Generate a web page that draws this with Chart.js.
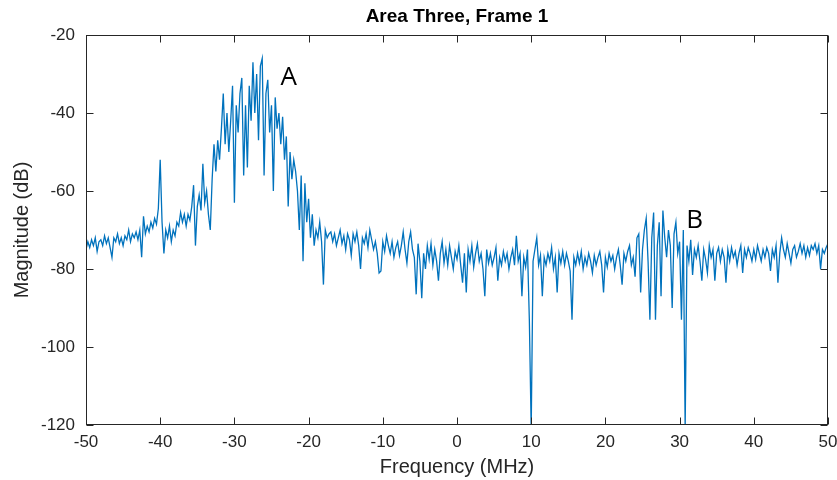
<!DOCTYPE html>
<html>
<head>
<meta charset="utf-8">
<script src="https://cdn.jsdelivr.net/npm/chart.js@4.4.1/dist/chart.umd.min.js"></script>
<style>
  html, body { margin: 0; padding: 0; background: #fff; }
  #wrap { width: 837px; height: 480px; }
</style>
</head>
<body>
<div id="wrap"><canvas id="chart" width="837" height="480"></canvas></div>
<script>
// spectrum sampled every 0.25 MHz from -50 to +50 MHz
const freqStart = -50;
const freqStep = 0.25;
const magnitudeDb = [
  -75, -73, -74.5, -72.5,   -74, -72, -75.5, -73,
  -72.5, -74, -71.5, -73.5,   -72, -74.5, -77, -72,
  -73, -71, -73.5, -72,   -74, -71.5, -72.5, -70,
  -73, -71, -72, -70.5,   -72.5, -70, -77, -66.5,
  -71, -69, -70.5, -68,   -69.5, -67, -68.5, -64.5,
  -52, -68, -76, -70,   -72, -69, -73, -70,
  -71.5, -68, -69, -65.5,   -68, -66, -69, -66,
  -67.5, -64, -58.5, -74,   -64, -61, -65, -53,
  -63, -60, -66, -70,   -57, -48, -55, -47,
  -52, -44, -35, -48,   -40, -50, -42, -33,
  -63, -38, -45, -35,   -31, -56, -38, -54,
  -33, -42, -27, -40,   -30, -47, -28, -26,
  -56, -35, -31.5, -45,   -38, -60, -36, -44,
  -40, -48, -41, -52,   -46, -64, -50, -57,
  -52, -55, -60, -70,   -56, -78, -58, -68,
  -62, -72, -66, -74,   -70, -72, -68, -73,
  -84, -70, -72, -71,   -70.5, -73, -71, -74,
  -72, -70, -73.5, -71.5,   -75, -71, -72.5, -76.5,
  -71, -73, -70.5, -74,   -80, -72, -73.5, -71,
  -74.5, -70, -72.5, -75,   -73, -76, -81, -80.5,
  -73, -75.5, -71.5, -74,   -76, -73, -77, -74.5,
  -73, -76.5, -74, -70.5,   -75, -78.5, -73, -70.5,
  -75, -77, -86.5, -73.5,   -78, -87.5, -76, -80,
  -74, -77.5, -73.5, -79,   -75, -78, -83, -76,
  -73, -78.5, -75, -79,   -74, -77, -80, -75.5,
  -77.5, -74, -79, -83.5,   -76, -86, -75, -78,
  -74, -79.5, -76, -73.5,   -78, -76, -80, -87,
  -75, -78.5, -76, -79,   -77, -74.5, -83, -77,
  -79, -75.5, -78, -76,   -80, -77, -75, -79,
  -71.5, -78, -76, -87,   -77, -79.5, -75, -93,
  -121, -78, -75, -72,   -79, -76.5, -87, -77,
  -79, -76, -78, -74.5,   -80, -77, -86, -76,
  -78.5, -75.5, -79, -76,   -78, -80.5, -93, -77,
  -79, -76, -78.5, -75.5,   -80, -77, -79, -76,
  -78, -81, -76.5, -79,   -77, -75.5, -79, -86,
  -77, -79.5, -76, -78,   -76.5, -80, -77, -75,
  -79, -84, -76, -78,   -75.5, -74, -79, -77,
  -82, -72, -71, -86,   -75, -70, -67, -78,
  -93, -72, -65.5, -93,   -74, -68, -87, -65,
  -72, -77, -70, -74,   -90, -71, -68, -76,
  -73, -93, -70, -121,   -74, -78, -72.5, -81.5,
  -75, -77, -74, -78,   -83, -75, -77.5, -81,
  -74, -77, -75, -83,   -76, -74.5, -78, -75,
  -77, -83.5, -75, -78,   -74.5, -77, -75.5, -79,
  -76, -74, -81, -75,   -77, -74.5, -76, -78,
  -75, -77.5, -74, -76,   -78, -75, -77, -74.5,
  -76, -80.5, -75, -77,   -74, -83.5, -76, -72,
  -75, -77, -73.5, -76,   -78.5, -75, -74, -77,
  -75.5, -73.5, -76, -74,   -77, -74.5, -76.5, -74,
  -75, -73.5, -76, -74,   -80, -75, -76, -74.5,
  -73.5
];
const freqMHz = magnitudeDb.map((_, i) => freqStart + i * freqStep);

const xTicks = [-50, -40, -30, -20, -10, 0, 10, 20, 30, 40, 50];
const yTicks = [-120, -100, -80, -60, -40, -20];

// peak markers placed in data coordinates
const markers = [
  { text: "A", x: -23.8, y: -31 },
  { text: "B", x: 30.9, y: -67.6 },
];

const axisColor = "#262626";
const fontFamily = "'Liberation Sans', Arial, Helvetica, sans-serif";

// full box with inward ticks on all four sides, plus title and markers
const boxAndLabels = {
  id: "boxAndLabels",
  afterDraw(chart) {
    const { ctx, chartArea: a, scales } = chart;
    const l = Math.round(a.left) + 0.5, r = Math.round(a.right) - 0.5;
    const t = Math.round(a.top) + 0.5, b = Math.round(a.bottom) - 0.5;
    const tickLen = 7;
    ctx.save();
    ctx.strokeStyle = axisColor;
    ctx.lineWidth = 1;
    ctx.strokeRect(l, t, r - l, b - t);
    ctx.beginPath();
    xTicks.forEach(v => {
      const px = Math.round(scales.x.getPixelForValue(v)) + 0.5;
      ctx.moveTo(px, b); ctx.lineTo(px, b - tickLen);
      ctx.moveTo(px, t); ctx.lineTo(px, t + tickLen);
    });
    yTicks.forEach(v => {
      const py = Math.round(scales.y.getPixelForValue(v)) + 0.5;
      ctx.moveTo(l, py); ctx.lineTo(l + tickLen, py);
      ctx.moveTo(r, py); ctx.lineTo(r - tickLen, py);
    });
    ctx.stroke();

    ctx.fillStyle = "#000";
    ctx.font = "bold 19px " + fontFamily;
    ctx.textAlign = "center";
    ctx.textBaseline = "middle";
    ctx.fillText("Area Three, Frame 1", (a.left + a.right) / 2, 17);

    ctx.font = "26px 'Open Sans', sans-serif";
    ctx.textAlign = "left";
    markers.forEach(m => {
      ctx.fillText(m.text, scales.x.getPixelForValue(m.x), scales.y.getPixelForValue(m.y));
    });
    ctx.restore();
  },
};

new Chart(document.getElementById("chart"), {
  type: "line",
  data: {
    datasets: [{
      data: freqMHz.map((f, i) => ({ x: f, y: magnitudeDb[i] })),
      borderColor: "#0072BD",
      borderWidth: 1.3,
      pointRadius: 0,
      tension: 0,
      fill: false,
    }],
  },
  options: {
    responsive: false,
    animation: false,
    events: [],
    layout: { padding: { top: 35, right: 9, left: 0, bottom: 0 } },
    plugins: { legend: { display: false }, tooltip: { enabled: false } },
    scales: {
      x: {
        type: "linear",
        min: -50,
        max: 50,
        afterFit: s => { s.height = 55; s.paddingLeft = 0; s.paddingRight = 0; },
        afterBuildTicks: s => { s.ticks = xTicks.map(v => ({ value: v })); },
        grid: { display: false, drawTicks: false },
        border: { display: false },
        ticks: { color: axisColor, padding: 7, maxRotation: 0, font: { family: fontFamily, size: 17 } },
        title: { display: true, text: "Frequency (MHz)", color: axisColor, padding: { top: 0, bottom: 1 }, font: { family: fontFamily, size: 20 } },
      },
      y: {
        min: -120,
        max: -20,
        afterFit: s => { s.width = 86; s.paddingTop = 0; s.paddingBottom = 0; },
        afterBuildTicks: s => { s.ticks = yTicks.map(v => ({ value: v })); },
        grid: { display: false, drawTicks: false },
        border: { display: false },
        ticks: { color: axisColor, padding: 11, font: { family: fontFamily, size: 17 } },
        title: { display: true, text: "Magnitude (dB)", color: axisColor, padding: { top: 10, bottom: 0 }, font: { family: fontFamily, size: 20 } },
      },
    },
  },
  plugins: [boxAndLabels],
});
</script>
</body>
</html>
